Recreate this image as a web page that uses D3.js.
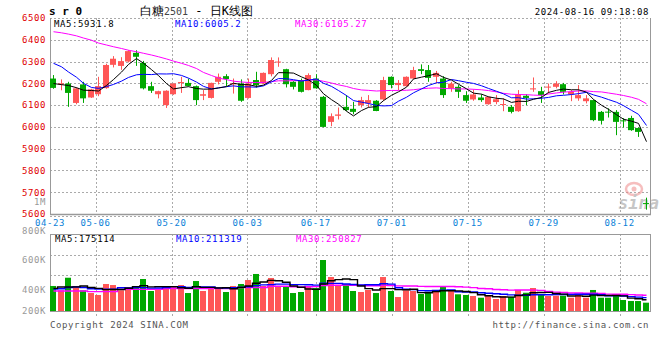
<!DOCTYPE html>
<html><head><meta charset="utf-8">
<script src="https://cdn.jsdelivr.net/npm/d3@7/dist/d3.min.js"></script>
<style>
html,body{margin:0;padding:0;background:#fff;}
svg{display:block;}
text{font-family:"DejaVu Sans Mono","Liberation Mono",monospace;}
.m{font-size:9px;letter-spacing:0.6px;}
</style></head>
<body>
<script>
// ---------- DATA ----------
const tickIdx    = [0, 6, 16, 26, 35, 45, 55, 65, 75];
const tickLabels = ["04-23","05-06","05-20","06-03","06-17","07-01","07-15","07-29","08-12"];
const priceTicks = [6500,6400,6300,6200,6100,6000,5900,5800,5700,5600];
const volLabels  = ["1M","800K","600K","400K","200K"];

const open  = [6222,6195,6199,6110,6195,6135,6150,6178,6285,6280,6300,6340,6294,6187,6150,6100,6150,6202,6202,6187,
               6143,6133,6207,6233,6197,6199,6133,6215,6199,6242,6296,6265,6207,6215,6169,6222,6138,6023,6051,6092,
               6083,6100,6108,6120,6126,6230,6192,6187,6222,6265,6261,6230,6222,6177,6184,6146,6126,6135,6104,6114,
               6102,6092,6072,6143,6172,6164,6182,6184,6196,6150,6131,6118,6123,6069,6070,6069,6030,6041,5995,5650];
const high  = [6238,6218,6207,6182,6207,6175,6230,6290,6325,6320,6352,6352,6303,6207,6166,6168,6200,6230,6222,6190,
               6169,6203,6245,6242,6222,6218,6222,6253,6250,6319,6319,6267,6210,6222,6246,6242,6142,6062,6089,6146,
               6115,6138,6146,6123,6230,6232,6215,6232,6276,6287,6284,6257,6233,6207,6192,6164,6172,6150,6140,6146,
               6131,6100,6169,6150,6227,6184,6199,6210,6202,6169,6192,6146,6125,6073,6085,6077,6040,6051,5998,5675];
const low   = [6175,6168,6092,6104,6110,6133,6141,6175,6273,6262,6296,6280,6172,6156,6131,6087,6147,6156,6186,6100,
               6123,6130,6195,6187,6153,6115,6130,6180,6196,6232,6276,6181,6172,6158,6168,6175,5998,6003,6034,6073,
               6058,6089,6089,6072,6120,6177,6169,6185,6220,6242,6207,6199,6133,6161,6133,6110,6120,6115,6102,6104,
               6072,6062,6069,6100,6161,6110,6153,6177,6149,6118,6120,6108,6026,6011,6043,5962,5997,5982,5954,5620];
const close = [6179,6200,6156,6177,6131,6172,6187,6284,6313,6302,6348,6322,6177,6166,6164,6166,6199,6206,6188,6123,
               6150,6202,6230,6220,6200,6120,6199,6192,6248,6307,6300,6196,6184,6161,6238,6177,6000,6049,6057,6077,
               6069,6123,6123,6073,6215,6192,6202,6230,6261,6257,6225,6248,6146,6199,6161,6120,6149,6123,6138,6127,
               6105,6069,6150,6133,6177,6146,6185,6199,6161,6161,6146,6131,6031,6028,6067,6023,6028,5985,5977,5648];
const volume = [394,326,524,394,326,283,252,425,409,326,378,378,504,315,346,378,378,409,283,472,
                315,378,362,299,394,425,488,583,394,520,394,378,283,299,378,362,803,535,394,425,
                315,299,331,283,535,315,220,326,315,268,304,326,378,315,263,252,236,209,236,189,
                236,225,331,288,362,252,236,241,241,209,263,209,331,209,209,268,173,157,157,131].map(v => v*1000);

// moving-average values before the first visible day
const ma5Lead   = [6199,6194,6190,6180];
const ma10Lead  = [6292,6276,6252,6228,6200,6181,6177,6185,6195];
const ma30Lead  = [6437,6432,6426,6418,6408,6398,6385,6376,6368,6360,6352,6345,6338,6330,6322,6312,6302,6292,6282,6268,
                   6250,6236,6224,6217,6210,6206,6204,6204,6204];
const vma5Lead  = [357,378,378,380].map(v => v*1000);
const vma10Lead = [346,350,370,378,370,350,345,345,345].map(v => v*1000);
const vma30Lead = [315,315,315,315,315,305,305,305,305,340,340,340,340,340,340,355,355,355,355,355,
                   355,355,355,355,355,370,370,370,370].map(v => v*1000);

const legendPrice = ["MA5:5931.8","MA10:6005.2","MA30:6105.27"];
const legendVol   = ["MA5:175114","MA10:211319","MA30:250827"];

// ---------- HELPERS ----------
const N = close.length;
function movAvg(arr, n, lead){
  return arr.map((v,i) => i < n-1 ? lead[i] : d3.mean(arr.slice(i-n+1, i+1)));
}
const ma5 = movAvg(close,5,ma5Lead), ma10 = movAvg(close,10,ma10Lead), ma30 = movAvg(close,30,ma30Lead);
const vma5 = movAvg(volume,5,vma5Lead), vma10 = movAvg(volume,10,vma10Lead), vma30 = movAvg(volume,30,vma30Lead);

const W = 660, H = 360;
const L = 50, R = 650;
const UP = "#ff5656", DOWN = "#00a800";
const GRID = "#aaaaaa", AXIS = "#999999";

const svg = d3.select("body").append("svg").attr("width",W).attr("height",H);

const x = d3.scaleBand().domain(d3.range(N)).range([L-0.75, R-0.75]).paddingInner(0.2).paddingOuter(0.1);
const xc = i => Math.round(x(i)) + 3;
const xg = d3.scaleLinear().domain([0, N-1]).range([L, R]);
const y = d3.scaleLinear().domain([5600, 6500]).range([214, 18]);
const yv = d3.scaleLinear().domain([0, 1000000]).range([311, 247.5]);
const yvLab = d3.scaleLinear().domain([200000,400000,600000,800000,1000000]).range([311,290,260,231,201.5]);
const volLabelVals = [1000000,800000,600000,400000,200000];

// ---------- HEADER ----------
svg.append("text").attr("x",49).attr("y",15).attr("font-size",11).attr("font-weight","bold")
  .attr("fill","#000").text("s r 0");
const title = svg.append("text").attr("x",140).attr("y",15).attr("font-size",12)
  .attr("font-family","'Noto Sans CJK SC',sans-serif").attr("fill","#000");
title.append("tspan").text("白糖");
title.append("tspan").attr("fill","#444").attr("font-family","'DejaVu Sans Mono',monospace").attr("font-size",10).text("2501");
title.append("tspan").text(" -  日K线图");
svg.append("text").attr("class","m").attr("x",649).attr("y",15).attr("text-anchor","end")
  .attr("fill","#000").text("2024-08-16 09:18:08");

// ---------- GRID ----------
const grid = svg.append("g").attr("stroke",GRID).attr("stroke-dasharray","2,2").attr("stroke-width",1);
priceTicks.slice(1,-1).forEach(p => {
  const yy = Math.round(y(p)) + 0.5;
  grid.append("line").attr("x1",L).attr("x2",R).attr("y1",yy).attr("y2",yy);
});
grid.append("line").attr("x1",L).attr("x2",R).attr("y1",18.5).attr("y2",18.5);
tickIdx.slice(1).forEach(i => {
  const xx = Math.round(xg(i)) + 0.5;
  grid.append("line").attr("x1",xx).attr("x2",xx).attr("y1",18).attr("y2",214);
  grid.append("line").attr("x1",xx).attr("x2",xx).attr("y1",234).attr("y2",318);
});
[875000, 560000].forEach(v => {
  const yy = Math.round(yv(v)) + 0.5;
  grid.append("line").attr("x1",L).attr("x2",R).attr("y1",yy).attr("y2",yy);
});
grid.append("line").attr("x1",L).attr("x2",R).attr("y1",216.5).attr("y2",216.5);

// axes / borders
const ax = svg.append("g").attr("stroke",AXIS).attr("stroke-width",1).attr("fill","none");
ax.append("line").attr("x1",L+0.5).attr("x2",L+0.5).attr("y1",18).attr("y2",215);
ax.append("line").attr("x1",R+0.5).attr("x2",R+0.5).attr("y1",18).attr("y2",215);
ax.append("line").attr("x1",L).attr("x2",R+1).attr("y1",214.5).attr("y2",214.5).attr("stroke-width",1.5);
ax.append("rect").attr("x",L+0.5).attr("y",234.5).attr("width",R-L).attr("height",77);

// price labels
svg.append("g").selectAll("text").data(priceTicks).join("text").attr("class","m")
  .attr("x",46).attr("y",p => p === 5600 ? y(p)+2.5 : y(p)+3.3).attr("text-anchor","end")
  .attr("fill","#e00000").text(p => p);
// volume labels
svg.append("g").selectAll("text").data(volLabels).join("text").attr("class","m")
  .attr("x",46).attr("y",(d,i) => yvLab(volLabelVals[i])+3.3).attr("text-anchor","end")
  .attr("font-size",(d,i) => i === 0 ? "8px" : null)
  .attr("fill","#999").text(d => d);
// date labels
svg.append("g").selectAll("text").data(tickIdx).join("text").attr("class","m")
  .attr("x",i => xg(i)).attr("y",226).attr("text-anchor","middle")
  .attr("fill","#0a7fd8").text((d,k) => tickLabels[k]);

// ---------- WATERMARK ----------
const wm = svg.append("g").attr("opacity",0.55);
wm.append("ellipse").attr("cx",634).attr("cy",189).attr("rx",8).attr("ry",6).attr("fill","none").attr("stroke","#f08a8a").attr("stroke-width",2.5);
wm.append("circle").attr("cx",634).attr("cy",189).attr("r",2.5).attr("fill","#f08a8a");
wm.append("text").attr("x",618).attr("y",209).attr("font-family","'DejaVu Sans',sans-serif").attr("font-style","italic")
  .attr("font-weight","bold").attr("font-size",17).attr("fill","#999").text("sina");

// ---------- CANDLES ----------
const cg = svg.append("g");
d3.range(N).forEach(i => {
  const o = open[i], c = close[i];
  const col = c >= o ? UP : DOWN;
  const cx = xc(i);
  cg.append("line").attr("x1",cx+0.5).attr("x2",cx+0.5).attr("y1",y(high[i])).attr("y2",y(low[i]))
    .attr("stroke",col).attr("stroke-width",1);
  const top = y(Math.max(o,c)), bot = y(Math.min(o,c));
  cg.append("rect").attr("x",Math.round(x(i))).attr("width",6)
    .attr("y",top).attr("height",Math.max(1, bot-top)).attr("fill",col);
});

// ---------- PRICE MA LINES ----------
const lineP = arr => d3.line().x((d,i) => xc(i)+0.5).y(d => y(d))(arr);
[[ma30,"#ff00ff"],[ma10,"#0000ff"],[ma5,"#000000"]].forEach(([a,c]) => {
  svg.append("path").attr("d",lineP(a)).attr("fill","none").attr("stroke",c).attr("stroke-width",1);
});

// ---------- VOLUME BARS ----------
const vg = svg.append("g");
d3.range(N).forEach(i => {
  const col = close[i] >= open[i] ? UP : DOWN;
  vg.append("rect").attr("x",Math.round(x(i))).attr("width",6)
    .attr("y",yv(volume[i])).attr("height",yv(0)-yv(volume[i])).attr("fill",col);
});
const lineV = arr => d3.line().curve(d3.curveStep).x((d,i) => xc(i)+0.5).y(d => yv(d))(arr);
[[vma30,"#ff00ff"],[vma10,"#0000ff"],[vma5,"#000000"]].forEach(([a,c]) => {
  svg.append("path").attr("d",lineV(a)).attr("fill","none").attr("stroke",c).attr("stroke-width",1.4);
});

// ---------- LEGENDS ----------
const legCols = ["#000","#0000ff","#ff00ff"], legX = [54,175,295];
legendPrice.forEach((t,k) => svg.append("text").attr("class","m").attr("x",legX[k]).attr("y",27).attr("fill",legCols[k]).text(t));
legendVol.forEach((t,k) => svg.append("text").attr("class","m").attr("x",legX[k]+1).attr("y",242).attr("fill",legCols[k]).text(t));

// ---------- FOOTER ----------
svg.append("text").attr("class","m").attr("x",50).attr("y",328).attr("fill","#555").text("Copyright 2024 SINA.COM");
svg.append("text").attr("class","m").attr("x",649).attr("y",328).attr("text-anchor","end").attr("fill","#555").text("http://finance.sina.com.cn");
</script>
</body></html>
